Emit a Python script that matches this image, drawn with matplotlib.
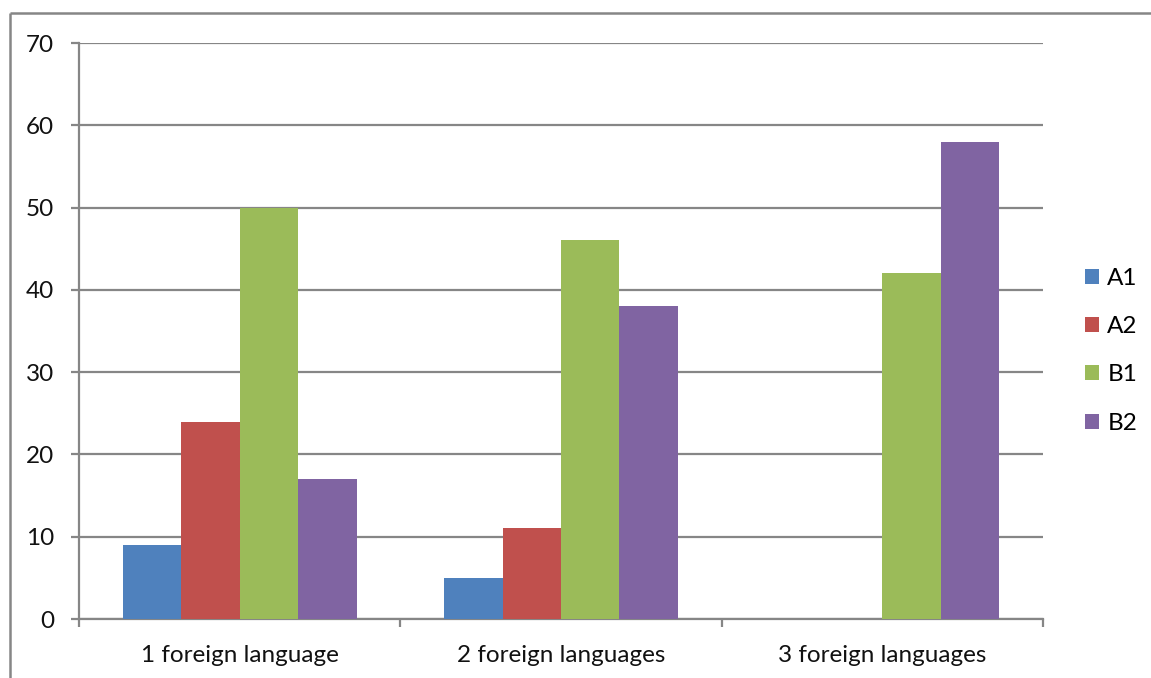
import matplotlib
matplotlib.use("Agg")
import matplotlib.pyplot as plt
from matplotlib.lines import Line2D
from matplotlib.patches import Patch
import numpy as np

categories = ["1 foreign language", "2 foreign languages", "3 foreign languages"]
series_names = ["A1", "A2", "B1", "B2"]
A1 = [9, 5, 0]
A2 = [24, 11, 0]
B1 = [50, 46, 42]
B2 = [17, 38, 58]
colors = ["#4F81BD", "#C0504D", "#9BBB59", "#8064A2"]
yticks = [0, 10, 20, 30, 40, 50, 60, 70]

plt.rcParams['font.family'] = ['Lato', 'DejaVu Sans']
W, H = 1151, 678
fig = plt.figure(figsize=(W / 100, H / 100), dpi=100)
ax = fig.add_axes([79 / W, 1 - 619 / H, (1043 - 79) / W, (619 - 43) / H])

grey = "#868686"
fs = 17.5
x = np.arange(len(categories))
bw = 0.182
for i, (vals, c) in enumerate(zip([A1, A2, B1, B2], colors)):
    ax.bar(x + (i - 1.5) * bw, vals, width=bw, color=c, zorder=3, linewidth=0)

ax.set_xlim(-0.5, 2.5)
ax.set_ylim(0, 70)
ax.set_yticks(yticks)
ax.set_yticklabels([str(v) for v in yticks])
ax.yaxis.grid(True, color=grey, linewidth=1.6, zorder=1)
ax.set_axisbelow(True)
for s in ["top", "right"]:
    ax.spines[s].set_visible(False)
for s in ["left", "bottom"]:
    ax.spines[s].set_color(grey)
    ax.spines[s].set_linewidth(1.6)

ax.set_xticks(x)
ax.set_xticklabels(categories)
ax.set_xticks([-0.5, 0.5, 1.5, 2.5], minor=True)
ax.tick_params(axis="x", which="major", length=0, pad=19, labelsize=fs, labelcolor="#111111")
ax.tick_params(axis="x", which="minor", length=6, width=1.6, color=grey, direction="out")
ax.tick_params(axis="y", length=6, width=1.6, color=grey, pad=12, labelsize=fs, labelcolor="#111111")

handles = [Patch(facecolor=c, edgecolor="none") for c in colors]
fig.legend(handles, series_names, loc="upper left", bbox_to_anchor=(1085 / W, 1 - 268 / H),
           frameon=False, fontsize=fs, handlelength=0.57, handleheight=0.57,
           handletextpad=0.35, labelspacing=1.12, borderaxespad=0, borderpad=0)

# outer chart border
bx, by = 10 / W, 1 - 13 / H
fig.add_artist(Line2D([bx, bx], [-0.01, by], transform=fig.transFigure, color=grey,
                      linewidth=1.8, solid_capstyle="butt"))
fig.add_artist(Line2D([bx, 1.0], [by, by], transform=fig.transFigure, color=grey,
                      linewidth=1.8, solid_capstyle="butt"))

fig.savefig("out.png", dpi=100)
